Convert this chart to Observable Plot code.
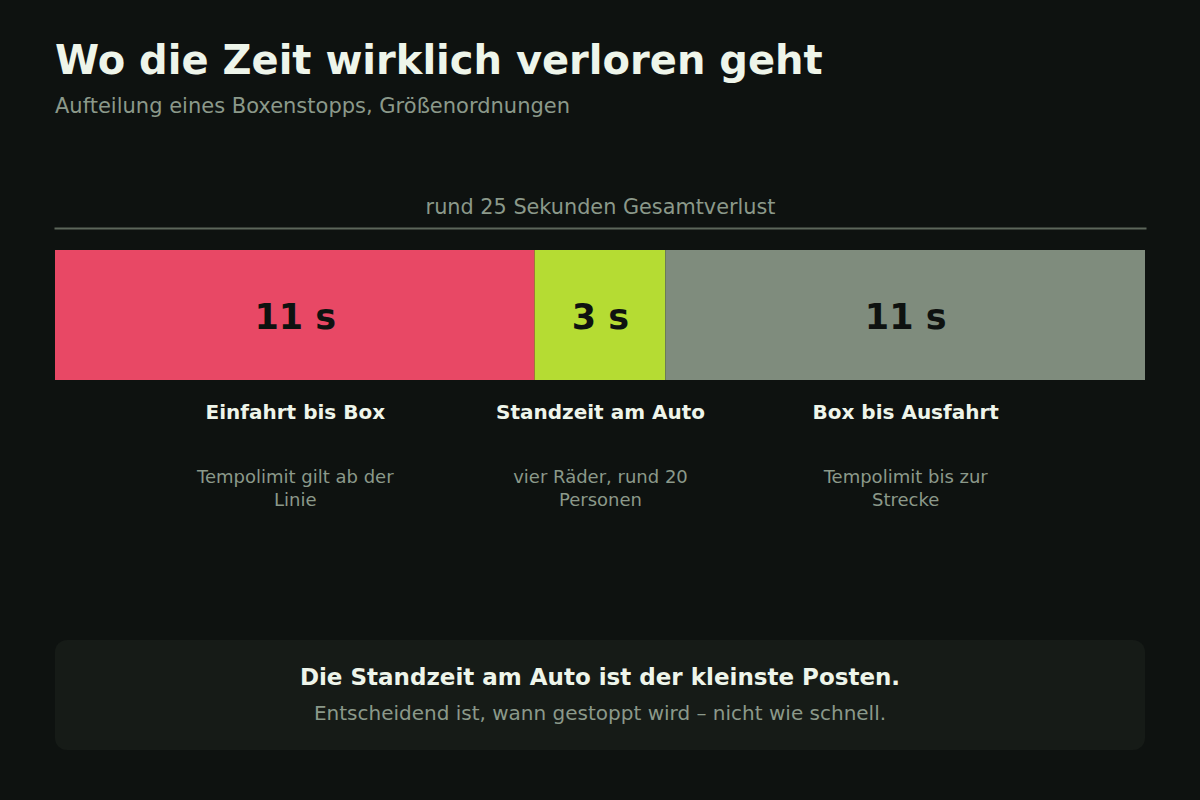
<!DOCTYPE html>
<html lang="de">
<head>
<meta charset="utf-8">
<script src="https://cdn.jsdelivr.net/npm/d3@7"></script>
<script src="https://cdn.jsdelivr.net/npm/@observablehq/plot@0.6"></script>
<style>
  html, body { margin: 0; padding: 0; }
  body {
    width: 1200px; height: 800px; position: relative; overflow: hidden;
    background: #0e1210; font-family: "DejaVu Sans", sans-serif;
  }
  #title {
    position: absolute; left: 55px; top: 40px; margin: 0;
    font-size: 40px; line-height: 1; font-weight: bold; color: #eef5ea;
  }
  #subtitle {
    position: absolute; left: 55px; top: 96px; margin: 0;
    font-size: 21px; line-height: 1; color: #8b998a;
  }
  #chart { position: absolute; left: 0; top: 180px; }
  #callout {
    position: absolute; left: 55px; top: 640px; width: 1090px; height: 110px;
    background: #161b17; border-radius: 12px;
  }
  #callout .head {
    position: absolute; left: 0; right: 0; top: 26px; text-align: center;
    font-size: 23px; line-height: 1; font-weight: bold; color: #eef5ea;
  }
  #callout .sub {
    position: absolute; left: 0; right: 0; top: 63px; text-align: center;
    font-size: 20px; line-height: 1; color: #8b998a;
  }
</style>
</head>
<body>
<h1 id="title">Wo die Zeit wirklich verloren geht</h1>
<div id="subtitle">Aufteilung eines Boxenstopps, Größenordnungen</div>
<div id="chart"></div>
<div id="callout">
  <div class="head">Die Standzeit am Auto ist der kleinste Posten.</div>
  <div class="sub">Entscheidend ist, wann gestoppt wird – nicht wie schnell.</div>
</div>
<script>
// Data
const phases = ["Einfahrt bis Box", "Standzeit am Auto", "Box bis Ausfahrt"];
const seconds = [11, 3, 11];
const notes = ["Tempolimit gilt ab der Linie", "vier Räder, rund 20 Personen", "Tempolimit bis zur Strecke"];
const colors = ["#e84865", "#b5dc33", "#7f8c7d"];
const totalLabel = "rund 25 Sekunden Gesamtverlust";
const stop = "Boxenstopp";

const data = phases.map((p, i) => ({phase: p, value: seconds[i], note: notes[i], color: colors[i], stop}));
const total = d3.sum(seconds);

const chart = Plot.plot({
  width: 1200,
  height: 360,
  marginLeft: 55,
  marginRight: 55,
  marginTop: 70,
  marginBottom: 160,
  style: {background: "transparent", fontFamily: "DejaVu Sans, sans-serif", overflow: "visible"},
  x: {domain: [0, total], axis: null},
  y: {type: "band", domain: [stop], padding: 0, axis: null},
  marks: [
    Plot.text([totalLabel], {
      text: d => d, frameAnchor: "top", lineAnchor: "bottom", dy: -37,
      fontSize: 20.8, fill: "#8b998a"
    }),
    Plot.frame({anchor: "top", dy: -22, stroke: "#5c665a", strokeWidth: 2}),
    Plot.barX(data, Plot.stackX({x: "value", y: "stop", fill: "color", order: null})),
    Plot.text(data, Plot.stackX({
      x: "value", y: "stop", order: null, text: d => `${d.value} s`,
      fontSize: 35, fontWeight: "bold", fill: "#0e1210", dy: 2
    })),
    Plot.text(data, Plot.stackX({
      x: "value", y: "stop", order: null, text: "phase",
      lineAnchor: "bottom", dy: 103, fontSize: 20, fontWeight: "bold", fill: "#eef5ea"
    })),
    Plot.text(data, Plot.stackX({
      x: "value", y: "stop", order: null, text: "note",
      lineAnchor: "top", dy: 150, fontSize: 18, lineWidth: 11.2, lineHeight: 1.33, fill: "#8b998a"
    }))
  ]
});
document.getElementById("chart").appendChild(chart);
</script>
</body>
</html>
